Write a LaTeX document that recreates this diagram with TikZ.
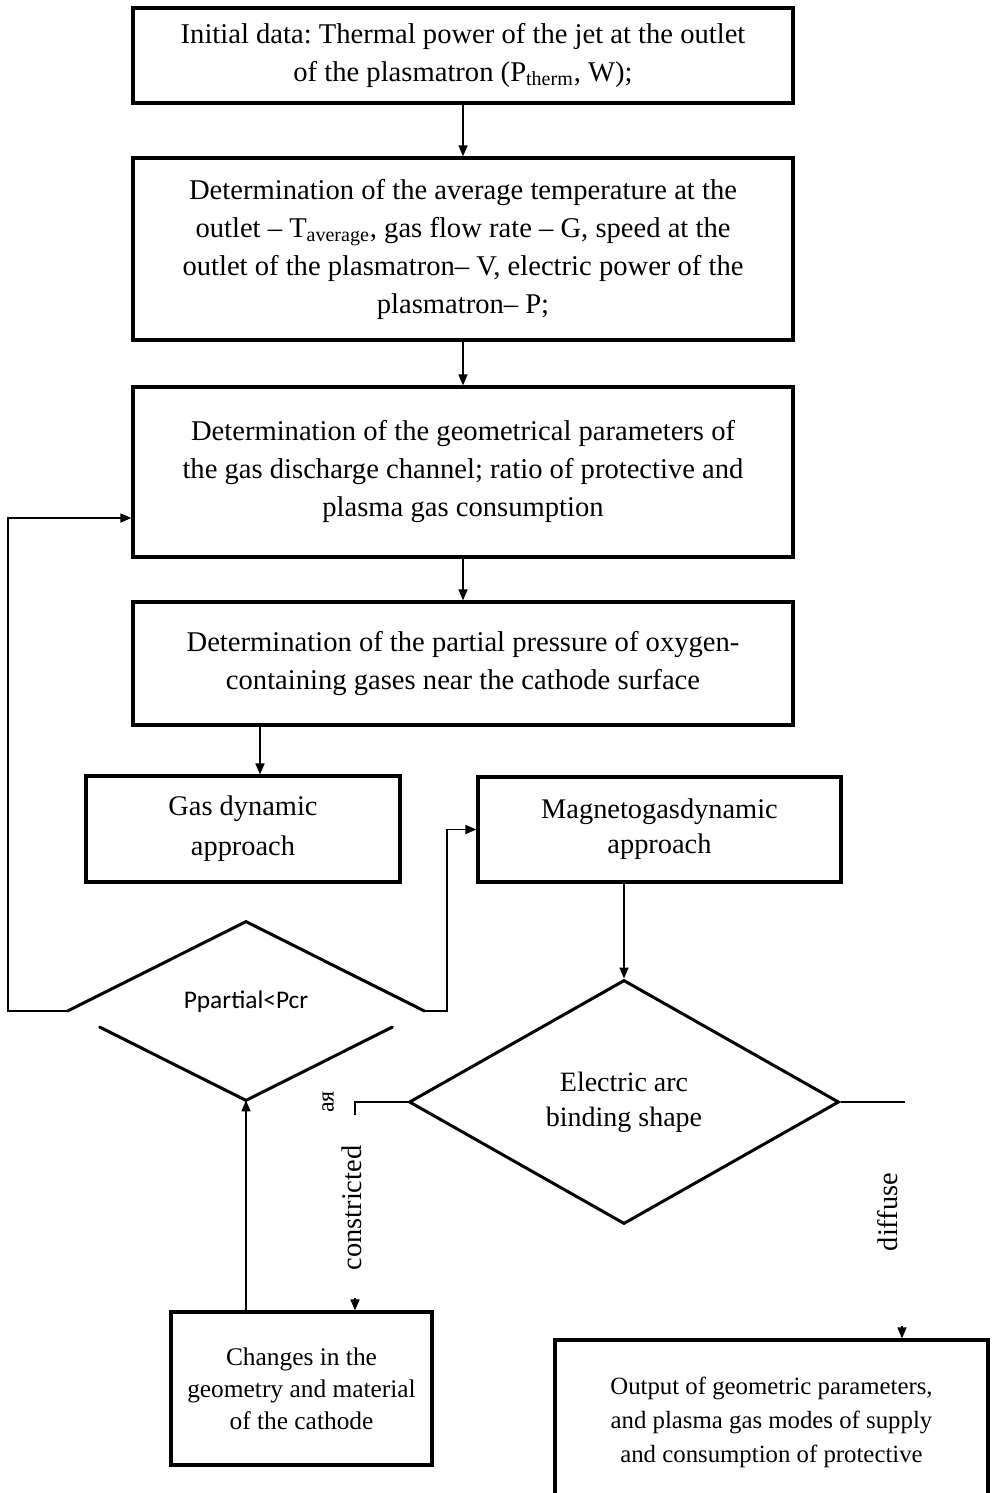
\documentclass[tikz,border=0pt]{standalone}
\usepackage{fontspec}
\setmainfont{Liberation Serif}
\newfontfamily\calibri{Carlito}
\usetikzlibrary{arrows.meta,shapes.geometric,calc}
\frenchspacing

\begin{document}
\begin{tikzpicture}[x=0.5pt,y=-0.5pt,
  box/.style={draw,line width=1.6pt,rectangle,inner sep=0pt,align=center},
  mainbox/.style={box,minimum width=330pt,font=\fontsize{14.3}{19}\selectfont},
  arr/.style={line width=0.8pt,-{Triangle[length=5.5pt,width=4.5pt]}},
  wire/.style={line width=0.8pt},
  edge/.style={line width=1.5pt,line cap=round},
  tag/.style={inner sep=0pt,font=\fontsize{14.2}{17}\selectfont,rotate=90}]
\useasboundingbox (0,0) rectangle (991,1493);
\clip (0,0) rectangle (991,1493);

\node[mainbox,minimum height=47.5pt] (init) at (463,55.5) {Initial data: Thermal power of the jet at the outlet\\of the plasmatron (P\textsubscript{therm}, W);};
\node[mainbox,minimum height=91pt] (avg) at (463,249) {Determination of the average temperature at the\\outlet -- T\textsubscript{average}, gas flow rate -- G, speed at the\\outlet of the plasmatron-- V, electric power of the\\plasmatron-- P;};
\node[mainbox,minimum height=85pt] (geom) at (463,472) {Determination of the geometrical parameters of\\the gas discharge channel; ratio of protective and\\plasma gas consumption};
\node[mainbox,minimum height=61.5pt] (press) at (463,663.5) {Determination of the partial pressure of oxygen-\\containing gases near the cathode surface};
\node[box,minimum width=157pt,minimum height=53pt,font=\fontsize{14.2}{20}\selectfont] (gasdyn) at (243,829) {Gas dynamic\\approach};
\node[box,minimum width=181.5pt,minimum height=52.5pt,font=\fontsize{14.2}{17.5}\selectfont] (mgd) at (659.5,829.5) {Magnetogasdynamic\\approach};
\node[diamond,minimum width=178pt,minimum height=89pt,inner sep=0pt] (ppart) at (246,1011) {};
\node[inner sep=0pt,font=\calibri\fontsize{12.7}{15}\selectfont] (pptext) at (246,1002) {Ppartial<Pcr};
\node[diamond,draw,line width=1.5pt,minimum width=215pt,minimum height=122pt,inner sep=0pt,align=center,font=\fontsize{14}{17.5}\selectfont] (elec) at (624,1102) {Electric arc\\binding shape};
\node[box,minimum width=130.5pt,minimum height=76.5pt,font=\fontsize{12.7}{16}\selectfont] (change) at (301.5,1388.5) {Changes in the\\geometry and material\\of the cathode};
\node[box,minimum width=216.5pt,minimum height=82pt,font=\fontsize{12.4}{17}\selectfont] (out) at (771.5,1422) {Output of geometric parameters,\\and plasma gas modes of supply\\and consumption of protective};

\draw[edge] (ppart.west) -- (ppart.north) -- (ppart.east);
\draw[edge] ($(ppart.west)!0.18!(ppart.south)$) -- (ppart.south) -- ($(ppart.east)!0.18!(ppart.south)$);

\draw[arr] (init) -- (avg);
\draw[arr] (avg) -- (geom);
\draw[arr] (geom) -- (press);
\draw[arr] (260,0 |- press.south) -- (260,0 |- gasdyn.north);
\draw[arr] (elec.north |- mgd.south) -- (elec.north);
\coordinate (loopL) at (8,1011);
\draw[arr] (ppart.west) -- (loopL) |- ($(geom.west)+(0,46)$);
\coordinate (loopR) at (447,1011);
\draw[arr] (ppart.east) -- (loopR) |- (mgd.west);
\draw[arr] (ppart.south |- change.north) -- (ppart.south);
\coordinate (cutL) at (355,1115);
\coordinate (cutLin) at (cutL |- change.north);
\draw[wire] (elec.west) -| (cutL);
\draw[arr] ($(cutLin)+(0,-12)$) -- (cutLin);
\coordinate (cutR) at (905,1102);
\coordinate (cutRin) at (902,0 |- out.north);
\draw[wire] (elec.east) -- (cutR);
\draw[arr] ($(cutRin)+(0,-12)$) -- (cutRin);

\node[tag] (tagC) at (352,1208) {constricted};
\node[tag] (tagD) at (888,1212) {diffuse};
\node[tag,font=\fontsize{12}{14}\selectfont] (tagR) at (328,1102) {ая};
\end{tikzpicture}
\end{document}
